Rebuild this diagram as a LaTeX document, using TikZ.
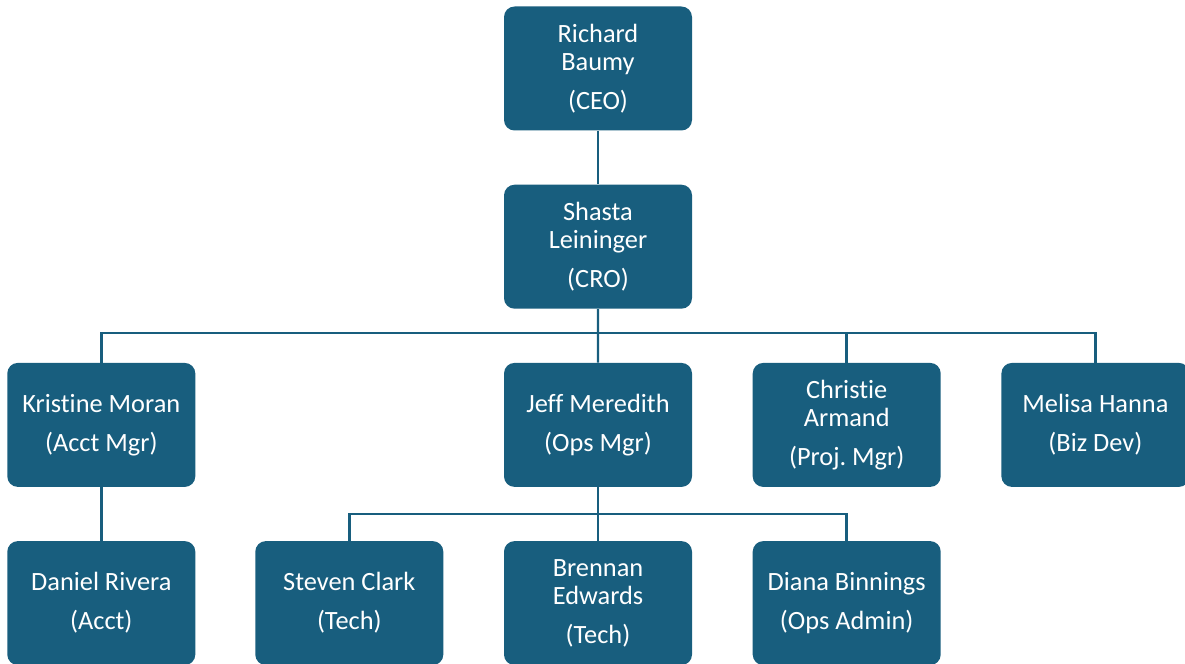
\documentclass[tikz,border=0pt]{standalone}
\usepackage{fontspec}
\setmainfont[Ligatures=NoCommon]{Carlito}
\usepackage{tikz}
\usetikzlibrary{positioning, calc}
\definecolor{OrgTeal}{HTML}{185E7E}
\frenchspacing

\begin{document}
\begin{tikzpicture}[
    node distance=1.07cm and 1.22cm,
    person/.style={rectangle, rounded corners=6pt, fill=OrgTeal, text=white,
                   minimum width=3.76cm, minimum height=2.48cm, align=center,
                   font=\fontsize{15}{16}\selectfont, inner sep=2pt},
    link/.style={draw=OrgTeal, line width=1.4pt}
]
    \useasboundingbox (0,0) rectangle (23.7,-13.28);

    % Top of the chart
    \node[person] (ceo) at (11.96,-1.37) {Richard\\Baumy\\[0.22cm](CEO)};
    \node[person, below=of ceo] (cro) {Shasta\\Leininger\\[0.22cm](CRO)};

    % Direct reports
    \node[person, below=of cro] (jeff) {Jeff Meredith\\[0.22cm](Ops Mgr)};
    \node[person, right=1.2cm of jeff] (christie) {Christie\\Armand\\[0.22cm](Proj. Mgr)};
    \node[person, right=1.2cm of christie] (melisa) {Melisa Hanna\\[0.22cm](Biz Dev)};
    \node[person, left=6.16cm of jeff] (kristine) {Kristine Moran\\[0.22cm](Acct Mgr)};

    % Third level
    \node[person, below=of jeff] (brennan) {Brennan\\Edwards\\[0.22cm](Tech)};
    \node[person, left=1.2cm of brennan] (steven) {Steven Clark\\[0.22cm](Tech)};
    \node[person, right=1.2cm of brennan] (diana) {Diana Binnings\\[0.22cm](Ops Admin)};
    \node[person, below=of kristine] (daniel) {Daniel Rivera\\[0.22cm](Acct)};

    % Connectors
    \draw[link] (ceo) -- (cro);
    \coordinate (bus1) at ($(cro.south)!0.45!(jeff.north)$);
    \draw[link] (cro.south) -- (bus1);
    \draw[link] (kristine.north) |- (bus1) -| (melisa.north);
    \draw[link] (bus1) -- (jeff.north);
    \draw[link] (bus1) -| (christie.north);
    \draw[link] (kristine) -- (daniel);

    \coordinate (bus2) at ($(jeff.south)!0.5!(brennan.north)$);
    \draw[link] (jeff.south) -- (brennan.north);
    \draw[link] (steven.north) |- (bus2) -| (diana.north);
\end{tikzpicture}
\end{document}
